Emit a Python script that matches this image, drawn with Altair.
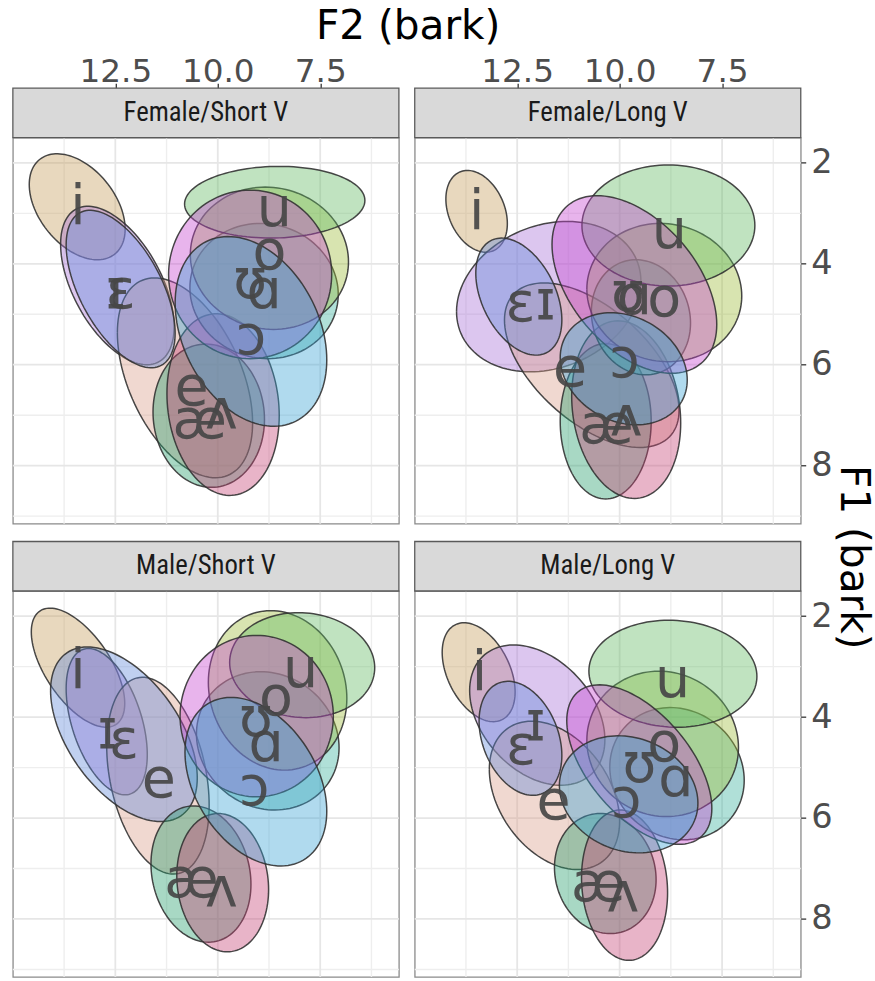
import altair as alt
import pandas as pd

VOWELS = ["i", "ɪ", "e", "ɛ", "æ", "ʌ", "ɑ", "ɔ", "o", "ʊ", "u"]
COLORS = ["#c59d5c", "#a770d7", "#d99d89", "#6189d9", "#259d6b", "#c54375",
          "#39b19d", "#39a2d4", "#9dbb39", "#c543cf", "#61b961"]
DRAW_RANK = [0, 1, 2, 3, 4, 5, 6, 10, 7, 9, 8]
PANELS = ["Female/Short V", "Female/Long V", "Male/Short V", "Male/Long V"]

X_MAJOR = [12.5, 10.0, 7.5]
X_MINOR = [13.75, 11.25, 8.75, 6.25]
Y_MAJOR = [2, 4, 6, 8]
Y_MINOR = [3, 5, 7, 9]

# ellipse centre (F2, F1), half extents (bark) and tilt, in VOWELS order
FS_CX = [13.43, 12.45, 10.80, 12.37, 10.22, 9.87, 8.87, 9.19, 8.74, 9.21, 8.61]
FS_CY = [2.87, 4.43, 6.26, 4.50, 7.01, 6.79, 4.54, 5.34, 3.89, 4.21, 2.78]
FS_HX = [1.17, 1.385, 1.65, 1.33, 1.36, 1.37, 1.81, 1.85, 1.93, 1.99, 2.20]
FS_HY = [1.05, 1.57, 1.98, 1.56, 1.42, 1.80, 1.34, 1.88, 1.41, 1.67, 0.71]
FS_RHO = [0.42, 0.52, 0.45, 0.56, 0.05, 0.12, 0.05, 0.30, 0.05, 0.0, -0.05]
FS_LX = [13.41, 12.49, 10.64, 12.37, 10.44, 9.91, 8.87, 9.19, 8.74, 9.21, 8.62]
FS_LY = [2.87, 4.54, 6.47, 4.54, 7.12, 6.93, 4.55, 5.45, 3.77, 4.34, 2.91]

FL_CX = [13.49, 11.73, 10.68, 12.46, 10.34, 9.84, 9.48, 9.90, 8.91, 9.64, 8.81]
FL_CY = [2.96, 4.65, 6.01, 4.65, 7.12, 6.89, 5.06, 6.08, 4.57, 4.41, 3.24]
FL_HX = [0.75, 2.25, 2.13, 1.05, 1.11, 1.33, 1.21, 1.55, 1.89, 2.01, 2.11]
FL_HY = [0.81, 1.49, 1.63, 1.16, 1.54, 1.76, 1.14, 1.11, 1.37, 1.76, 1.20]
FL_RHO = [0.30, -0.20, 0.55, 0.40, 0.0, 0.15, 0.10, 0.20, 0.05, 0.45, 0.0]
FL_LX = [13.49, 11.81, 11.21, 12.42, 10.32, 9.84, 9.64, 9.88, 8.91, 9.80, 8.79]
FL_LY = [2.97, 4.77, 6.08, 4.80, 7.22, 7.06, 4.67, 5.91, 4.70, 4.60, 3.36]

MS_CX = [13.41, 12.71, 11.46, 12.29, 10.41, 9.88, 8.78, 9.07, 8.54, 9.05, 7.94]
MS_CY = [3.02, 4.09, 5.16, 4.34, 7.11, 7.28, 4.47, 5.28, 3.47, 3.98, 2.97]
MS_HX = [1.14, 0.99, 1.25, 1.79, 1.22, 1.12, 1.74, 1.73, 1.69, 1.87, 1.77]
MS_HY = [1.18, 1.45, 1.95, 1.73, 1.35, 1.37, 1.37, 1.67, 1.58, 1.60, 1.04]
MS_RHO = [0.60, 0.45, 0.30, 0.50, 0.15, 0.10, 0.10, 0.35, 0.10, 0.0, 0.05]
MS_LX = [13.41, 12.69, 11.44, 12.29, 10.64, 9.91, 8.82, 9.11, 8.58, 9.07, 7.98]
MS_LY = [3.09, 4.27, 5.25, 4.47, 7.24, 7.41, 4.53, 5.41, 3.62, 4.04, 3.06]

ML_CX = [13.44, 12.01, 11.59, 12.42, 10.35, 9.88, 8.60, 9.78, 8.95, 9.52, 8.70]
ML_CY = [3.11, 3.96, 5.55, 4.42, 7.10, 7.33, 5.12, 5.53, 4.53, 4.94, 3.14]
ML_HX = [0.89, 1.65, 1.59, 1.01, 1.24, 1.05, 1.64, 1.69, 1.85, 1.77, 2.05]
ML_HY = [0.98, 1.39, 1.47, 1.13, 1.19, 1.49, 1.31, 1.16, 1.44, 1.58, 1.06]
ML_RHO = [0.40, 0.35, 0.35, 0.30, 0.10, 0.10, 0.10, 0.15, 0.05, 0.55, 0.05]
ML_LX = [13.42, 12.05, 11.61, 12.41, 10.52, 9.92, 8.63, 9.84, 8.91, 9.52, 8.71]
ML_LY = [3.13, 4.11, 5.68, 4.60, 7.31, 7.51, 5.22, 5.64, 4.53, 4.96, 3.26]

ELL = {
    "Female/Short V": (FS_CX, FS_CY, FS_HX, FS_HY, FS_RHO, FS_LX, FS_LY),
    "Female/Long V": (FL_CX, FL_CY, FL_HX, FL_HY, FL_RHO, FL_LX, FL_LY),
    "Male/Short V": (MS_CX, MS_CY, MS_HX, MS_HY, MS_RHO, MS_LX, MS_LY),
    "Male/Long V": (ML_CX, ML_CY, ML_HX, ML_HY, ML_RHO, ML_LX, ML_LY),
}

W, H, SH = 390, 390, 50
FONT = "DejaVu Sans"
STRIP_FONT = "Roboto Condensed, Liberation Sans Narrow, DejaVu Sans Condensed, DejaVu Sans"


def xs():
    return alt.Scale(domain=[5.58, 15.0], reverse=True, nice=False, zero=False)


def ys():
    return alt.Scale(domain=[1.5, 9.15], reverse=True, nice=False, zero=False)


def panel(name, top_axis, right_axis):
    cx, cy, hx, hy, rho, lx, ly = ELL[name]
    de = pd.DataFrame({"vowel": VOWELS, "k": DRAW_RANK,
                       "cx": cx, "cy": cy, "hx": hx, "hy": hy, "rho": rho}).sort_values("k")
    dl = pd.DataFrame({"vowel": VOWELS, "lx": lx, "ly": ly})

    if top_axis:
        xaxis = alt.Axis(orient="top", offset=SH, values=X_MAJOR, format=".1f", title=None,
                         grid=False, domain=False, labelFontSize=33, labelFont=FONT,
                         labelColor="#4d4d4d", tickColor="#333333", tickSize=5, tickWidth=1.3,
                         labelPadding=2, labelBaseline="alphabetic")
    else:
        xaxis = None
    if right_axis:
        yaxis = alt.Axis(orient="right", values=Y_MAJOR, grid=False, domain=False,
                         labelFontSize=34, labelFont=FONT, labelColor="#4d4d4d",
                         tickColor="#333333", tickSize=5, tickWidth=1.3, labelPadding=5,
                         title=None)
    else:
        yaxis = None

    gx_major = alt.Chart(pd.DataFrame({"v": X_MAJOR})).mark_rule(
        color="#e6e6e6", strokeWidth=1.8).encode(x=alt.X("v:Q", scale=xs(), axis=xaxis))
    gx_minor = alt.Chart(pd.DataFrame({"v": X_MINOR})).mark_rule(
        color="#eeeeee", strokeWidth=1.4).encode(x=alt.X("v:Q", scale=xs(), axis=xaxis))
    gy_major = alt.Chart(pd.DataFrame({"v": Y_MAJOR})).mark_rule(
        color="#e6e6e6", strokeWidth=1.8).encode(y=alt.Y("v:Q", scale=ys(), axis=yaxis))
    gy_minor = alt.Chart(pd.DataFrame({"v": Y_MINOR})).mark_rule(
        color="#eeeeee", strokeWidth=1.4).encode(y=alt.Y("v:Q", scale=ys(), axis=yaxis))

    ell = alt.Chart(de).transform_calculate(
        t="sequence(0, 2 * PI + 0.001, PI / 60)"
    ).transform_flatten(["t"]).transform_calculate(
        px="datum.cx + datum.hx * cos(datum.t)",
        py="datum.cy + datum.hy * (-datum.rho * cos(datum.t) + sqrt(1 - datum.rho * datum.rho) * sin(datum.t))",
    ).mark_line(stroke="#333333", strokeWidth=1.5, strokeOpacity=0.9,
                fillOpacity=0.4, clip=True).encode(
        x=alt.X("px:Q", scale=xs(), axis=xaxis),
        y=alt.Y("py:Q", scale=ys(), axis=yaxis),
        fill=alt.Fill("vowel:N", scale=alt.Scale(domain=VOWELS, range=COLORS), legend=None),
        detail="k:O",
        order="t:Q",
    )

    lab = alt.Chart(dl).mark_text(font=FONT, fontSize=56, color="#474747",
                                  opacity=0.92, baseline="middle").encode(
        x=alt.X("lx:Q", scale=xs(), axis=xaxis),
        y=alt.Y("ly:Q", scale=ys(), axis=yaxis),
        text="vowel:N",
    )

    d = pd.DataFrame({"label": [name]})
    srect = alt.Chart(d).mark_rect(fill="#d9d9d9", stroke="#5a5a5a", strokeWidth=1.3).encode(
        x=alt.value(0), x2=alt.value(W), y=alt.value(-SH), y2=alt.value(0))
    stxt = alt.Chart(d).mark_text(font=STRIP_FONT, fontSize=27, color="#1a1a1a").encode(
        x=alt.value(W / 2), y=alt.value(-SH / 2), text="label:N")

    return alt.layer(gx_minor, gy_minor, gx_major, gy_major, ell, lab, srect, stxt).properties(
        width=W, height=H)


row1 = alt.hconcat(panel(PANELS[0], True, False), panel(PANELS[1], True, True), spacing=12)
row2 = alt.hconcat(panel(PANELS[2], False, False), panel(PANELS[3], False, True), spacing=12)

main = alt.vconcat(
    row1, row2, spacing=14,
    title=alt.TitleParams("F2 (bark)", font=FONT, fontSize=41, fontWeight="normal",
                          color="black", anchor="middle", offset=7, dx=-14),
)

f1 = alt.Chart(pd.DataFrame({"t": ["F1 (bark)"]})).mark_text(
    font=FONT, fontSize=41, color="black", angle=90, baseline="middle", align="center"
).encode(x=alt.value(4), y=alt.value(424), text="t:N").properties(
    width=26, height=700, view=alt.ViewBackground(strokeOpacity=0))

chart = alt.hconcat(main, f1, spacing=0).properties(
    padding={"left": 11, "top": 1, "right": 0, "bottom": 0},
    background="white",
).configure_view(stroke="#8a8a8a", strokeWidth=1.3)

chart.save("out.html", embed_options={"renderer": "svg", "actions": False})
